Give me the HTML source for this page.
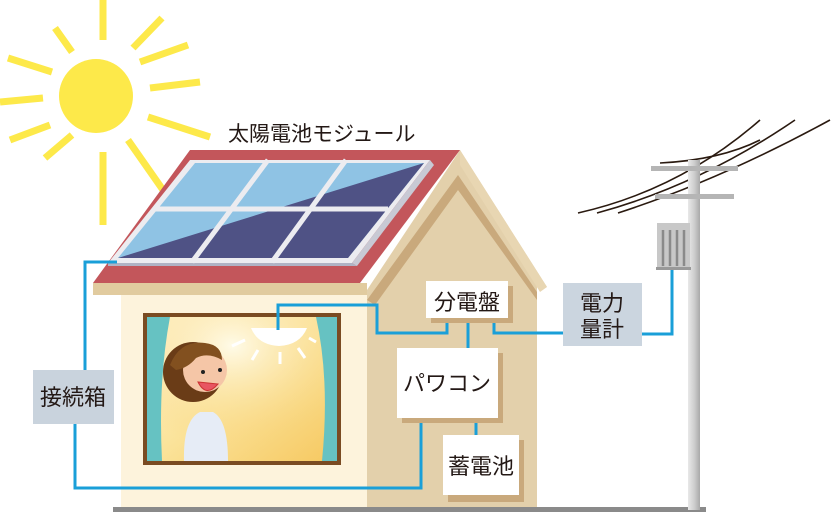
<!DOCTYPE html>
<html><head><meta charset="utf-8"><style>
html,body{margin:0;padding:0;background:#fff;}
svg{display:block;}
text{font-family:"Liberation Sans","Noto Sans CJK JP",sans-serif;fill:#231815;}
</style></head><body>
<svg width="834" height="516" viewBox="0 0 834 516" xmlns="http://www.w3.org/2000/svg">
<defs>
<linearGradient id="win" x1="0" y1="0" x2="1" y2="1">
<stop offset="0" stop-color="#fff4d0"/><stop offset="0.5" stop-color="#fbe39a"/><stop offset="1" stop-color="#f6c860"/>
</linearGradient>
<radialGradient id="glow" cx="0.45" cy="0.2" r="0.7">
<stop offset="0" stop-color="#fffbe8"/><stop offset="1" stop-color="#f8d276" stop-opacity="0"/>
</radialGradient>
<linearGradient id="pole" x1="0" x2="1"><stop offset="0" stop-color="#e8e8e8"/><stop offset="0.5" stop-color="#cfcfcf"/><stop offset="1" stop-color="#a9a9a9"/></linearGradient>
</defs>

<!-- sun -->
<g stroke="#fde94a" stroke-width="7" stroke-linecap="butt">
<line x1="103" y1="0" x2="103" y2="40"/>
<line x1="103" y1="152" x2="103" y2="225"/>
<line x1="0" y1="102" x2="43" y2="98"/>
<line x1="150" y1="88" x2="200" y2="82"/>
<line x1="55" y1="28" x2="72" y2="52"/>
<line x1="133" y1="48" x2="162" y2="18"/>
<line x1="8" y1="58" x2="52" y2="72"/>
<line x1="148" y1="117" x2="210" y2="137"/>
<line x1="45" y1="158" x2="72" y2="135"/>
<line x1="128" y1="140" x2="170" y2="200"/>
<line x1="10" y1="140" x2="50" y2="125"/>
<line x1="140" y1="62" x2="188" y2="45"/>
</g>
<circle cx="96" cy="96" r="37" fill="#fde94a"/>

<text x="228" y="141" font-size="21">太陽電池モジュール</text>

<!-- gable wall -->
<polygon points="460,150 547,287 537,287 537,507 367,507 367,290" fill="#e3d0ab"/>
<polygon points="458,175 537,292 537,300 458,190 375,305 367,300" fill="#c9a97c"/>
<polygon points="460,150 547,287 540,292 460,165" fill="#e8d6b2"/>
<!-- front wall -->
<rect x="121" y="290" width="246" height="217" fill="#fdf3dc"/>
<!-- roof -->
<rect x="93" y="283" width="274" height="12" fill="#e1cb9f"/>
<polygon points="190,150 460,150 360,283 93,283" fill="#c3565b"/>
<!-- panels -->
<polygon points="190,160 430,160 352,263 108,263" fill="#ececf0"/>
<polygon points="352,263 430,160 434,165 357,266" fill="#c8c9d4"/>
<polygon points="108,263 352,263 357,266 108,266" fill="#b0b3c4"/>
<polygon points="195,163 424,163 348,258 118,258" fill="#8fc3e4"/>
<polygon points="118,258 424,163 348,258" fill="#4f5285"/>
<g stroke="#ececf0" stroke-width="5">
<line x1="155" y1="209" x2="388" y2="209"/>
<line x1="268" y1="160" x2="192" y2="262"/>
<line x1="346" y1="160" x2="272" y2="262"/>
</g>

<!-- window -->
<rect x="143" y="313" width="198" height="152" fill="#7a4b22"/>
<rect x="147" y="317" width="190" height="144" fill="url(#win)"/>
<rect x="147" y="317" width="190" height="144" fill="url(#glow)"/>
<path d="M147,317 L170,317 Q158,380 162,461 L147,461 Z" fill="#66c2c2"/>
<path d="M337,317 L316,317 Q330,380 322,461 L337,461 Z" fill="#66c2c2"/>
<!-- lamp -->
<path d="M251,328 L307,328 Q300,345 279,346 Q258,345 251,328 Z" fill="#fff"/>
<g stroke="#fff" stroke-width="3"><line x1="232" y1="346" x2="245" y2="340"/><line x1="252" y1="360" x2="258" y2="350"/><line x1="280" y1="364" x2="280" y2="352"/><line x1="305" y1="358" x2="298" y2="348"/><line x1="316" y1="342" x2="309" y2="338"/></g>
<!-- person -->
<ellipse cx="193" cy="372" rx="30" ry="30" fill="#6a3c17"/>
<path d="M184,461 Q183,420 200,412 L213,412 Q228,420 228,461 Z" fill="#e6ecf6"/>
<circle cx="205" cy="370" r="22" fill="#f5c6a7"/>
<path d="M170,365 Q180,340 205,343 Q222,345 222,360 Q208,352 196,358 Q188,368 176,370 Z" fill="#82501f"/>
<path d="M198,382 Q206,398 218,384 Z" fill="#e85562" stroke="#c33" stroke-width="1"/>
<circle cx="203" cy="372" r="2" fill="#222"/><circle cx="220" cy="370" r="2" fill="#222"/>

<!-- ground -->
<rect x="113" y="507" width="593" height="5" fill="#8a8a8a"/>

<!-- pole -->
<g stroke="#2a1a10" stroke-width="1.6" fill="none">
<path d="M578,213 Q680,190 760,120"/>
<path d="M597,213 Q700,185 795,120"/>
<path d="M618,213 Q720,180 830,120"/>
<path d="M660,163 Q720,160 760,140"/>
</g>
<rect x="688" y="160" width="12" height="350" fill="url(#pole)"/>
<rect x="651" y="166" width="87" height="5" fill="#b5b5b5"/>
<rect x="655" y="194" width="79" height="5" fill="#b5b5b5"/>
<rect x="657" y="223" width="33" height="45" fill="#c8c8c8"/>
<g stroke="#8a8a8a" stroke-width="2.5"><line x1="663" y1="230" x2="663" y2="266"/><line x1="670" y1="230" x2="670" y2="266"/><line x1="677" y1="230" x2="677" y2="266"/><line x1="684" y1="230" x2="684" y2="266"/></g>
<rect x="656" y="267" width="35" height="3" fill="#999"/>

<!-- blue lines -->
<g stroke="#1a9fd8" stroke-width="3" fill="none">
<polyline points="117,262 85,262 85,370"/>
<polyline points="75,424 75,488 421,488 421,418"/>
<polyline points="278,330 278,305 377,305 377,333 447,333 447,318"/>
<line x1="468" y1="318" x2="468" y2="348"/>
<polyline points="494,318 494,333 563,333"/>
<line x1="476" y1="418" x2="476" y2="435"/>
<polyline points="642,334 672,334 672,270"/>
</g>

<!-- boxes -->
<rect x="431" y="286" width="82" height="37" fill="#c9a97c"/>
<rect x="426" y="281" width="82" height="37" fill="#fff"/>
<text x="467" y="310" font-size="22" text-anchor="middle">分電盤</text>
<rect x="402" y="353" width="101" height="70" fill="#c9a97c"/>
<rect x="397" y="348" width="101" height="70" fill="#fff"/>
<text x="447" y="391" font-size="22" text-anchor="middle">パワコン</text>
<rect x="448" y="440" width="76" height="62" fill="#c9a97c"/>
<rect x="443" y="435" width="76" height="60" fill="#fff"/>
<text x="481" y="474" font-size="22" text-anchor="middle">蓄電池</text>
<rect x="33" y="370" width="81" height="54" fill="#c9d3dd"/>
<text x="73" y="405" font-size="22" text-anchor="middle">接続箱</text>
<rect x="563" y="283" width="79" height="63" fill="#cbd5df"/>
<text x="602" y="311" font-size="22" text-anchor="middle">電力</text>
<text x="602" y="337" font-size="22" text-anchor="middle">量計</text>
</svg>
</body></html>
